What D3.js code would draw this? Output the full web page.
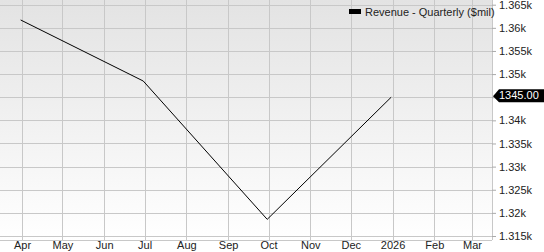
<!DOCTYPE html>
<html><head><meta charset="utf-8">
<script src="https://cdn.jsdelivr.net/npm/d3@7"></script>
<style>body{margin:0;background:#fff}svg{display:block;font-family:"Liberation Sans",Arial,sans-serif}</style>
</head><body><svg id="c" width="544" height="252"></svg>
<script>
const dates = ["2025-03-31","2025-06-30","2025-09-30","2025-12-31"];
const revenue = [1361.7, 1348.5, 1318.6, 1345.0];
const yTicks = [1315,1320,1325,1330,1335,1340,1345,1350,1355,1360,1365];
const seriesName = "Revenue - Quarterly ($mil)";
const lastLabel = "1345.00";

const svg = d3.select("#c");
const W = 492, H = 240;
const parse = d3.utcParse("%Y-%m-%d");
const x = d3.scaleUtc().domain([parse("2025-04-01"), parse("2026-03-01")]).range([22, 472]);
const y = d3.scaleLinear().domain([1315, 1365]).range([236, 4.7]);
const lastV = revenue[revenue.length-1];

const defs = svg.append("defs");
const g = defs.append("linearGradient").attr("id","bg").attr("x1",0).attr("y1",0).attr("x2",0).attr("y2",1);
g.append("stop").attr("offset","0%").attr("stop-color","#e3e3e3");
g.append("stop").attr("offset","100%").attr("stop-color","#ffffff");
svg.append("rect").attr("x",0).attr("y",0).attr("width",W).attr("height",H).attr("fill","url(#bg)");

const months = d3.utcMonth.range(parse("2025-04-01"), parse("2026-03-02"));
svg.append("g").selectAll("line").data(months).join("line")
  .attr("x1",d=>Math.round(x(d))+0.5).attr("x2",d=>Math.round(x(d))+0.5)
  .attr("y1",0).attr("y2",H).attr("stroke","#c8c8c8");
svg.append("g").selectAll("line").data(yTicks).join("line")
  .attr("x1",0).attr("x2",W).attr("y1",d=>Math.round(y(d))+0.5).attr("y2",d=>Math.round(y(d))+0.5)
  .attr("stroke","#c8c8c8");
svg.append("line").attr("x1",0).attr("x2",W).attr("y1",H+0.5).attr("y2",H+0.5).attr("stroke","#c8c8c8");
svg.append("line").attr("x1",W+0.5).attr("x2",W+0.5).attr("y1",0).attr("y2",H).attr("stroke","#c8c8c8");

const yAxis = svg.append("g").attr("transform",`translate(${W},0)`)
  .call(d3.axisRight(y).tickValues(yTicks).tickSize(4).tickPadding(3).tickFormat(d=>(d/1000)+"k"));
yAxis.select(".domain").remove();
yAxis.selectAll(".tick line").attr("stroke","#aaa");
yAxis.selectAll("text").attr("font-size","11px").attr("fill","#222").attr("font-family","Liberation Sans, Arial, sans-serif");
yAxis.selectAll(".tick").filter(d=>d===lastV).select("text").remove();

const fmt = d => d.getUTCMonth()===0 ? d3.utcFormat("%Y")(d) : d3.utcFormat("%b")(d);
const xAxis = svg.append("g").attr("transform",`translate(0,${H})`)
  .call(d3.axisBottom(x).tickValues(months).tickSize(0).tickFormat(fmt));
xAxis.select(".domain").remove();
xAxis.selectAll("text").attr("y",9).attr("dy",null).attr("font-size","11px").attr("fill","#222").attr("font-family","Liberation Sans, Arial, sans-serif");

const pts = dates.map((d,i)=>({d:parse(d), v:revenue[i]}));
svg.append("path").datum(pts).attr("fill","none").attr("stroke","#000").attr("stroke-width",1)
  .attr("d", d3.line().x(p=>x(p.d)).y(p=>y(p.v)));

// legend
svg.append("rect").attr("x",349).attr("y",9).attr("width",12).attr("height",5).attr("fill","#000");
svg.append("text").attr("x",365).attr("y",16).attr("font-size","11px").attr("fill","#222").text(seriesName);

// last value tag
const ly = y(lastV);
svg.append("path").attr("fill","#000")
  .attr("d",`M${W+1},${ly-1} L${W+7},${ly-8} L544,${ly-8} L544,${ly+5} L${W+7},${ly+5} Z`);
svg.append("text").attr("x",W+7).attr("y",ly+2).attr("font-size","11px").attr("fill","#fff").text(lastLabel);
</script></body></html>
